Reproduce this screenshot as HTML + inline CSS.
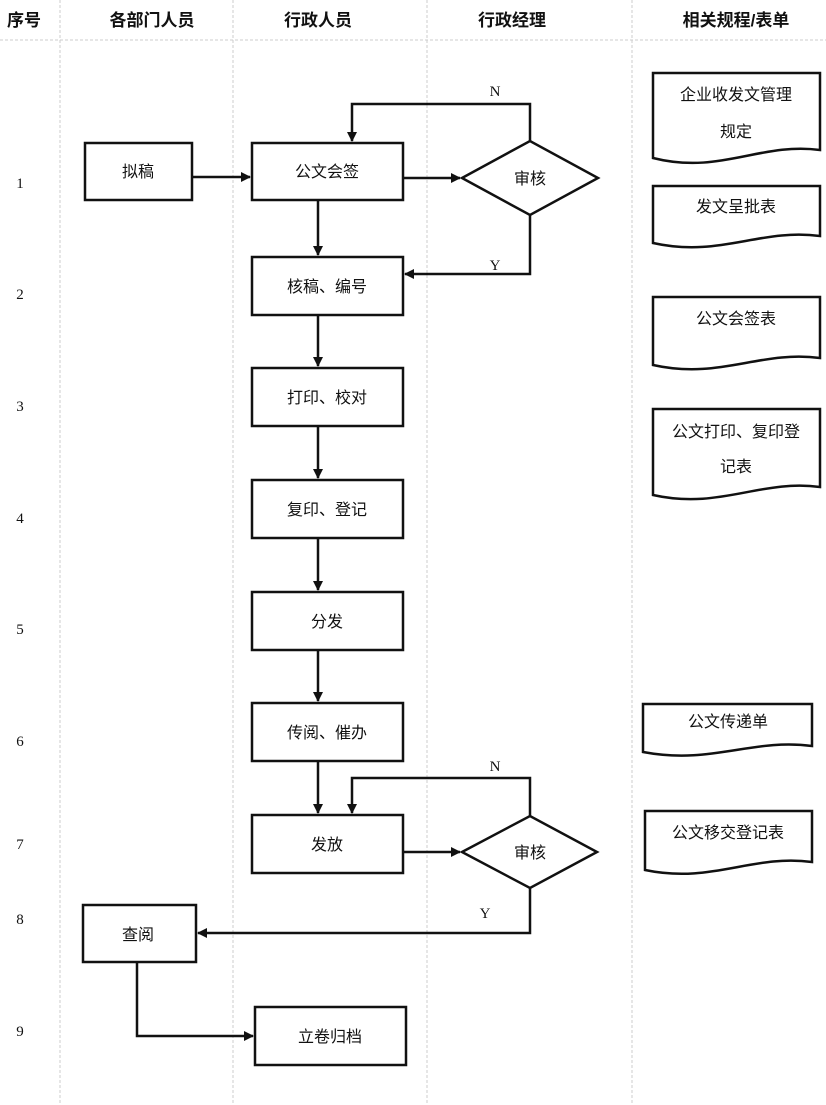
<!DOCTYPE html>
<html><head><meta charset="utf-8"><style>
html,body{margin:0;padding:0;background:#fff;}
svg{display:block;}
text{font-family:"Liberation Sans","Noto Sans CJK SC",sans-serif;fill:#111;}
.h{font-size:17px;font-weight:bold;}
.b{font-size:16px;}
.n{font-family:"Liberation Serif",serif;font-size:15px;}
</style></head><body>
<svg width="826" height="1105" viewBox="0 0 826 1105" xmlns="http://www.w3.org/2000/svg">
<defs><marker id="a" markerWidth="10" markerHeight="10" refX="9" refY="5" orient="auto" markerUnits="userSpaceOnUse"><path d="M0,0 L10,5 L0,10 Z" fill="#111"/></marker></defs>
<g stroke="#ccc" stroke-width="1" stroke-dasharray="3,2">
<line x1="0" y1="40" x2="826" y2="40"/>
<line x1="60" y1="0" x2="60" y2="1105"/>
<line x1="233" y1="0" x2="233" y2="1105"/>
<line x1="427" y1="0" x2="427" y2="1105"/>
<line x1="632" y1="0" x2="632" y2="1105"/>
</g>
<g class="h" text-anchor="middle">
<text x="24" y="26" class="h">序号</text>
<text x="152" y="26" class="h">各部门人员</text>
<text x="318" y="26" class="h">行政人员</text>
<text x="512" y="26" class="h">行政经理</text>
<text x="736" y="26" class="h">相关规程/表单</text>
</g>
<g class="n" text-anchor="middle">
<text x="20" y="188" class="n">1</text><text x="20" y="299" class="n">2</text><text x="20" y="411" class="n">3</text>
<text x="20" y="523" class="n">4</text><text x="20" y="634" class="n">5</text><text x="20" y="746" class="n">6</text>
<text x="20" y="849" class="n">7</text><text x="20" y="924" class="n">8</text><text x="20" y="1036" class="n">9</text>
</g>
<g fill="#fff" stroke="#111" stroke-width="2.5">
<rect x="85" y="143" width="107" height="57"/>
<rect x="252" y="143" width="151" height="57"/>
<rect x="252" y="257" width="151" height="58"/>
<rect x="252" y="368" width="151" height="58"/>
<rect x="252" y="480" width="151" height="58"/>
<rect x="252" y="592" width="151" height="58"/>
<rect x="252" y="703" width="151" height="58"/>
<rect x="252" y="815" width="151" height="58"/>
<rect x="83" y="905" width="113" height="57"/>
<rect x="255" y="1007" width="151" height="58"/>
<polygon points="462,178 530,141 598,178 530,215"/>
<polygon points="462,852 530,816 597,852 530,888"/>
<path d="M653,73 H820 V150 C760,142 720,175 653,158 Z"/>
<path d="M653,186 H820 V236 C760,228 720,258 653,243 Z"/>
<path d="M653,297 H820 V358 C760,350 720,380 653,365 Z"/>
<path d="M653,409 H820 V487 C760,479 720,510 653,495 Z"/>
<path d="M643,704 H812 V746 C752,738 712,765 643,752 Z"/>
<path d="M645,811 H812 V862 C752,854 712,884 645,870 Z"/>
</g>
<g stroke="#111" stroke-width="2.5" fill="none" marker-end="url(#a)">
<line x1="192" y1="177" x2="250" y2="177"/>
<line x1="403" y1="178" x2="460" y2="178"/>
<polyline points="530,141 530,104 352,104 352,141"/>
<line x1="318" y1="200" x2="318" y2="255"/>
<polyline points="530,215 530,274 405,274"/>
<line x1="318" y1="315" x2="318" y2="366"/>
<line x1="318" y1="426" x2="318" y2="478"/>
<line x1="318" y1="538" x2="318" y2="590"/>
<line x1="318" y1="650" x2="318" y2="701"/>
<line x1="318" y1="761" x2="318" y2="813"/>
<polyline points="530,816 530,778 352,778 352,813"/>
<line x1="403" y1="852" x2="460" y2="852"/>
<polyline points="530,888 530,933 198,933"/>
<polyline points="137,962 137,1036 253,1036"/>
</g>
<g class="n" text-anchor="middle">
<text x="495" y="96" class="n">N</text><text x="495" y="270" class="n">Y</text>
<text x="495" y="771" class="n">N</text><text x="485" y="918" class="n">Y</text>
</g>
<g class="b" text-anchor="middle">
<text x="138" y="177">拟稿</text>
<text x="327" y="177">公文会签</text>
<text x="530" y="184">审核</text>
<text x="327" y="292">核稿、编号</text>
<text x="327" y="403">打印、校对</text>
<text x="327" y="515">复印、登记</text>
<text x="327" y="627">分发</text>
<text x="327" y="738">传阅、催办</text>
<text x="327" y="850">发放</text>
<text x="530" y="858">审核</text>
<text x="138" y="940">查阅</text>
<text x="330" y="1042">立卷归档</text>
<text x="736" y="100">企业收发文管理</text>
<text x="736" y="137">规定</text>
<text x="736" y="212">发文呈批表</text>
<text x="736" y="324">公文会签表</text>
<text x="736" y="437">公文打印、复印登</text>
<text x="736" y="472">记表</text>
<text x="728" y="727">公文传递单</text>
<text x="728" y="838">公文移交登记表</text>
</g>
</svg>
</body></html>
